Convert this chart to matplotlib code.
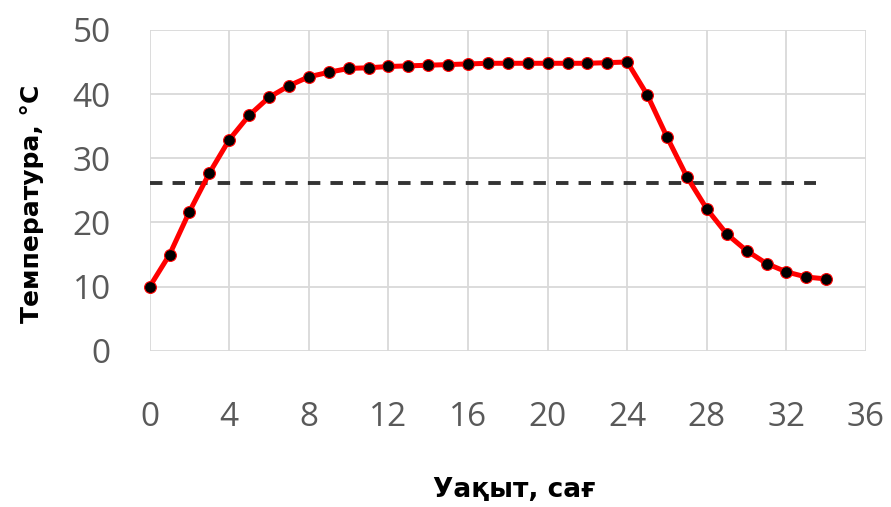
import matplotlib.pyplot as plt

hours = list(range(0, 35))
temps = [10.0, 15.0, 21.7, 27.7, 32.9, 36.7, 39.5, 41.3, 42.7, 43.4,
         44.0, 44.1, 44.3, 44.4, 44.5, 44.6, 44.7, 44.8, 44.8, 44.8,
         44.8, 44.8, 44.8, 44.9, 45.0, 39.9, 33.3, 27.1, 22.1, 18.2,
         15.6, 13.6, 12.3, 11.5, 11.2]
threshold = 26.2
threshold_x = [0, 33.5]

xticks = list(range(0, 37, 4))
yticks = list(range(0, 51, 10))


def main():
    fig = plt.figure(figsize=(8.91, 5.07), dpi=100)
    ax = fig.add_axes([0.168, 0.308, 0.804, 0.633])

    ax.plot(threshold_x, [threshold, threshold], color="#333333", linewidth=2.8,
            linestyle=(0, (3.2, 2.6)), zorder=2)
    ax.plot(hours, temps, color="#ff0000", linewidth=3.6, marker="o", markersize=8.5,
            markerfacecolor="black", markeredgecolor="#ff0000", markeredgewidth=0.8,
            clip_on=False, zorder=3)

    ax.set_xlim(0, 36)
    ax.set_ylim(0, 50)
    ax.set_xticks(xticks)
    ax.set_yticks(yticks)
    ax.grid(True, color="#d9d9d9", linewidth=1.3)
    ax.set_axisbelow(True)
    for s in ax.spines.values():
        s.set_visible(False)
    ax.tick_params(length=0, labelsize=24, labelcolor="#595959")
    ax.tick_params(axis="x", pad=36)
    ax.tick_params(axis="y", pad=28)
    for lab in ax.get_xticklabels() + ax.get_yticklabels():
        lab.set_fontfamily("Open Sans")

    fig.text(0.577, 0.033, "Уақыт, сағ", ha="center", va="center",
             fontsize=19, fontweight="bold", family="DejaVu Sans")
    fig.text(0.036, 0.598, "Температура, °С", ha="center", va="center", rotation=90,
             fontsize=18, fontweight="bold", family="DejaVu Sans")

    fig.savefig("out.png", dpi=100, facecolor="white")
    plt.close(fig)


if __name__ == "__main__":
    main()
